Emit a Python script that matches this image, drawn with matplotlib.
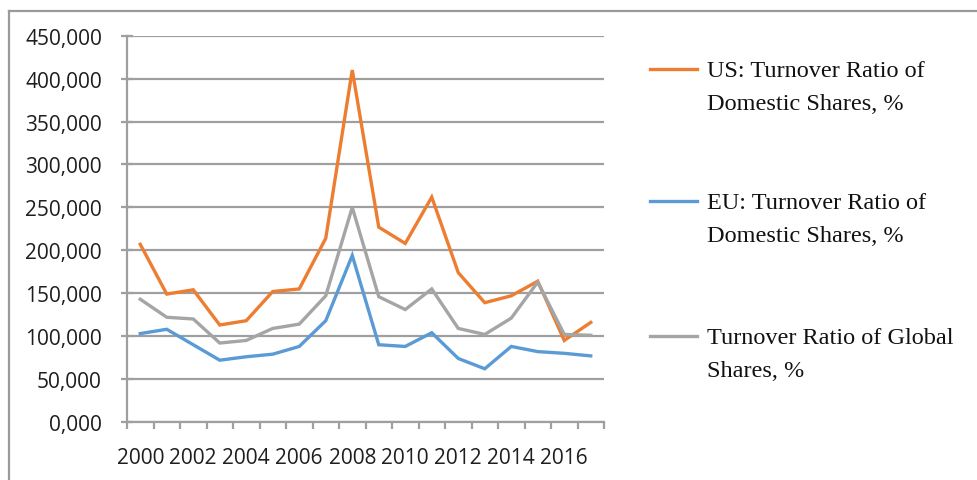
import matplotlib
matplotlib.use("Agg")
import matplotlib.pyplot as plt
from matplotlib.lines import Line2D
from matplotlib.ticker import FixedLocator, FuncFormatter

years = list(range(2000, 2018))
us_turnover = [207, 149, 154, 113, 118, 152, 155, 214, 410, 227, 208, 262, 174, 139, 147, 164, 95, 116]
eu_turnover = [103, 108, 90, 72, 76, 79, 88, 118, 194, 90, 88, 104, 74, 62, 88, 82, 80, 77]
global_turnover = [143, 122, 120, 92, 95, 109, 114, 147, 250, 146, 131, 155, 109, 102, 121, 163, 102, 101]

series_names = [
    "US: Turnover Ratio of\nDomestic Shares, %",
    "EU: Turnover Ratio of\nDomestic Shares, %",
    "Turnover Ratio of Global\nShares, %",
]
series_colors = ["#ED7D31", "#5B9BD5", "#A5A5A5"]
y_ticks = [0, 50, 100, 150, 200, 250, 300, 350, 400, 450]
x_label_years = list(range(2000, 2017, 2))

W, H = 977, 481
fig = plt.figure(figsize=(W / 100, H / 100), dpi=100)
fig.patch.set_facecolor("white")

# outer chart frame (top and left edges)
fig.add_artist(Line2D([9 / W, 9 / W], [0, 1 - 12 / H], transform=fig.transFigure,
                      color="#9a9a9a", lw=1.6))
fig.add_artist(Line2D([9 / W, 1], [1 - 12 / H, 1 - 12 / H], transform=fig.transFigure,
                      color="#9a9a9a", lw=1.6))

left, right = 127 / W, 604 / W
bottom, top = 1 - 423 / H, 1 - 36.7 / H
ax = fig.add_axes([left, bottom, right - left, top - bottom])

x = list(range(len(years)))
for vals, c in zip([us_turnover, eu_turnover, global_turnover], series_colors):
    ax.plot(x, vals, color=c, lw=2.4, solid_joinstyle="miter", zorder=3)

ax.set_xlim(-0.5, len(years) - 0.5)
ax.set_ylim(0, 450)

grid_c = "#9f9f9f"
ax.set_yticks(y_ticks)
ax.yaxis.set_major_formatter(FuncFormatter(lambda v, p: f"{v:.3f}".replace(".", ",")))
ax.grid(axis="y", color=grid_c, lw=1.6, zorder=1)
ax.set_axisbelow(True)

ax.xaxis.set_major_locator(FixedLocator([years.index(y) for y in x_label_years]))
ax.set_xticklabels([str(y) for y in x_label_years])
ax.xaxis.set_minor_locator(FixedLocator([i - 0.5 for i in range(len(years) + 1)]))

for s in ["top", "right"]:
    ax.spines[s].set_visible(False)
for s in ["left", "bottom"]:
    ax.spines[s].set_color(grid_c)
    ax.spines[s].set_linewidth(1.6)

ax.tick_params(axis="y", direction="inout", length=8, width=1.6, color=grid_c, pad=14)
ax.tick_params(axis="x", which="major", length=0, pad=18)
ax.tick_params(axis="x", which="minor", direction="out", length=5, width=1.6, color=grid_c)
for lbl in ax.get_yticklabels() + ax.get_xticklabels():
    lbl.set_fontfamily("Open Sans")
    lbl.set_fontsize(15)
    lbl.set_color("#1e1e1e")

# legend
legend_y = [70, 202, 337]
for name, c, yy in zip(series_names, series_colors, legend_y):
    yf = 1 - yy / H
    fig.add_artist(Line2D([650 / W, 697 / W], [yf, yf], transform=fig.transFigure,
                          color=c, lw=2.4))
    fig.text(707 / W, 1 - (yy - 9) / H, name, ha="left", va="top",
             family="Liberation Serif", fontsize=17.5, color="#111111", linespacing=1.75)

fig.savefig("out.png", dpi=100, facecolor="white")
